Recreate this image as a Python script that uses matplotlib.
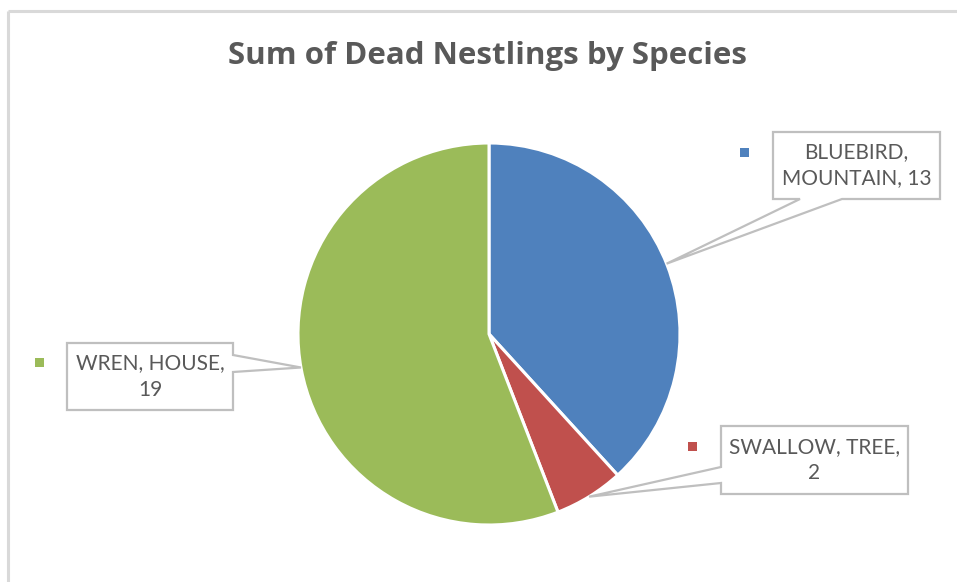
import numpy as np
import matplotlib
matplotlib.use("Agg")
import matplotlib.pyplot as plt
from matplotlib.patches import Polygon, Rectangle

# Data
species = ["BLUEBIRD, MOUNTAIN", "SWALLOW, TREE", "WREN, HOUSE"]
dead_nestlings = [13, 2, 19]
slice_colors = ["#4F81BD", "#C0504D", "#9BBB59"]

W, H = 957, 582
fig = plt.figure(figsize=(W / 100, H / 100), dpi=100)
ax = fig.add_axes([0, 0, 1, 1])

def py(y):
    """Convert a top-down pixel row to data y."""
    return H - y

CENTER = (489, py(334))
RADIUS = 191

ax.pie(dead_nestlings, colors=slice_colors, startangle=90, counterclock=False,
       center=CENTER, radius=RADIUS,
       wedgeprops=dict(edgecolor="white", linewidth=2.2))

ax.set_xlim(0, W)
ax.set_ylim(0, H)
ax.set_aspect("auto")
ax.axis("off")

# Chart area border (top and left edges visible)
border = "#D9D9D9"
ax.plot([8, W], [py(11), py(11)], color=border, lw=2.2, solid_capstyle="butt")
ax.plot([8, 8], [py(11), 0], color=border, lw=2.2, solid_capstyle="butt")

# Title
ax.text(488, py(56), "Sum of Dead Nestlings by Species", ha="center", va="center",
        fontsize=22.5, fontweight="bold", color="#595959", family="Open Sans")


def rim_point(angle_deg):
    a = np.deg2rad(angle_deg)
    return (CENTER[0] + RADIUS * np.cos(a), CENTER[1] + RADIUS * np.sin(a))


def callout(box, tip, base, side, text, color, key):
    x0, y0, x1, y1 = box
    bx0, by0, bx1, by1 = x0, py(y1), x1, py(y0)
    t = rim_point(tip)
    if side == "bottom":
        pts = [(bx0, by1), (bx1, by1), (bx1, by0), (base[1], by0), t,
               (base[0], by0), (bx0, by0)]
    elif side == "right":
        pts = [(bx0, by1), (bx1, by1), (bx1, py(base[0])), t,
               (bx1, py(base[1])), (bx1, by0), (bx0, by0)]
    else:  # left
        pts = [(bx0, by1), (bx1, by1), (bx1, by0), (bx0, by0),
               (bx0, py(base[1])), t, (bx0, py(base[0]))]
    ax.add_patch(Polygon(pts, closed=True, facecolor="white", edgecolor="#BFBFBF",
                         lw=1.6, joinstyle="miter", zorder=5))
    ax.text((bx0 + bx1) / 2, (by0 + by1) / 2, text, ha="center", va="center",
            fontsize=15, color="#595959", family="Lato", linespacing=1.38, zorder=6)
    kx, ky = key
    ax.add_patch(Rectangle((kx - 4.5, py(ky) - 4.5), 9, 9, facecolor=color,
                           edgecolor="none", zorder=6))


callout((773, 132, 940, 199), 21.6, (800, 842), "bottom",
        f"BLUEBIRD,\nMOUNTAIN, {dead_nestlings[0]}", slice_colors[0], (744, 152))
callout((721, 426, 908, 494), -58.4, (467, 483), "left",
        f"SWALLOW, TREE,\n{dead_nestlings[1]}", slice_colors[1], (692, 446))
callout((67, 343, 233, 410), 190.1, (355, 372), "right",
        f"WREN, HOUSE,\n{dead_nestlings[2]}", slice_colors[2], (39, 362))

fig.savefig("out.png", dpi=100, facecolor="white")
